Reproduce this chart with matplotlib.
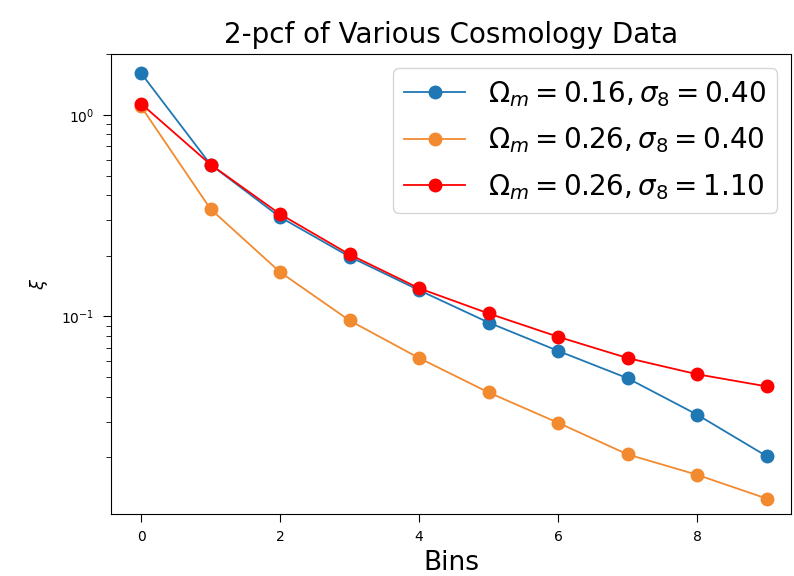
import matplotlib
matplotlib.use("Agg")
import matplotlib.pyplot as plt

# 2-point correlation function per bin for three cosmologies
bins = list(range(10))
xi_016_040 = [1.61, 0.567, 0.311, 0.198, 0.135, 0.0933, 0.0675, 0.0494, 0.0326, 0.0203]
xi_026_040 = [1.10, 0.341, 0.166, 0.0955, 0.0622, 0.0420, 0.0297, 0.0207, 0.0164, 0.0125]
xi_026_110 = [1.136, 0.567, 0.322, 0.203, 0.138, 0.1035, 0.0793, 0.0622, 0.0517, 0.0450]

labels = [r'$\Omega_m = 0.16, \sigma_8 = 0.40$',
          r'$\Omega_m = 0.26, \sigma_8 = 0.40$',
          r'$\Omega_m = 0.26, \sigma_8 = 1.10$']

fig = plt.figure(figsize=(7.94, 5.76), dpi=100)
ax = fig.add_axes([0.140, 0.108, 0.856, 0.798])

ax.plot(bins, xi_016_040, marker='o', markersize=9, linewidth=1.3, color='#1f77b4', label=labels[0])
ax.plot(bins, xi_026_040, marker='o', markersize=9, linewidth=1.3, color='#f28a30', label=labels[1])
ax.plot(bins, xi_026_110, marker='o', markersize=9, linewidth=1.3, color='#ff0000', label=labels[2])

ax.set_yscale('log')
ax.set_xlim(-0.43, 9.35)
ax.set_ylim(0.0105, 2.0)
ax.set_xticks([0, 2, 4, 6, 8])
ax.tick_params(which='major', labelsize=10, length=6, pad=6)
ax.tick_params(which='minor', length=3.5)

ax.set_title('2-pcf of Various Cosmology Data', fontsize=20, pad=8)
ax.set_xlabel('Bins', fontsize=19, labelpad=4)
ax.set_ylabel(r'$\xi$', fontsize=13, labelpad=8)
ax.legend(loc='upper right', fontsize=20, labelspacing=0.6, handlelength=2.2)

fig.savefig('out.png', dpi=100)
